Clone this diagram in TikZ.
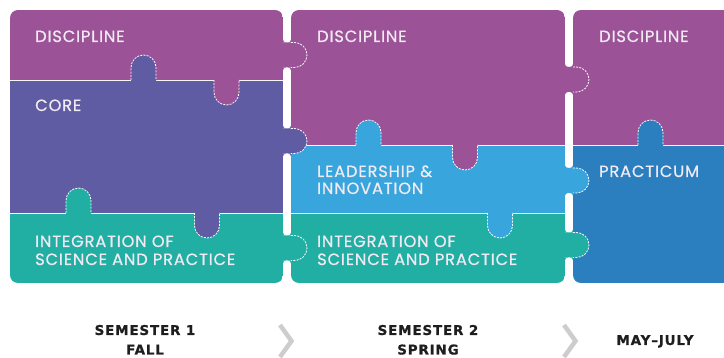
\documentclass[tikz,border=0pt]{standalone}
\usepackage{fontspec}
\setmainfont{Poppins}
\newfontfamily\piecefont{Poppins}[LetterSpace=5,FakeBold=0.6]
\newfontfamily\termfont{DejaVu Sans}[LetterSpace=6,FakeBold=0.8]
\definecolor{disc}{RGB}{155,82,151}
\definecolor{core}{RGB}{95,92,163}
\definecolor{integ}{RGB}{33,175,164}
\definecolor{lead}{RGB}{56,165,220}
\definecolor{prac}{RGB}{43,127,190}
\definecolor{ptxt}{RGB}{242,234,243}
\definecolor{ttxt}{RGB}{30,30,30}
\definecolor{chev}{RGB}{205,205,205}
\newcommand{\uptab}[3]{%
  \fill[#3, rounded corners=12.5pt] ({#1-12.5},{#2+1}) -- ({#1-12.5},{#2-25}) -- ({#1+12.5},{#2-25}) -- ({#1+12.5},{#2+1});
  \draw[tabline, rounded corners=12.5pt] ({#1-12.5},{#2}) -- ({#1-12.5},{#2-25}) -- ({#1+12.5},{#2-25}) -- ({#1+12.5},{#2});
}
\newcommand{\downtab}[3]{%
  \fill[#3, rounded corners=12.5pt] ({#1-12.5},{#2-1}) -- ({#1-12.5},{#2+25}) -- ({#1+12.5},{#2+25}) -- ({#1+12.5},{#2-1});
  \draw[tabline, rounded corners=12.5pt] ({#1-12.5},{#2}) -- ({#1-12.5},{#2+25}) -- ({#1+12.5},{#2+25}) -- ({#1+12.5},{#2});
}
\newcommand{\gapfillet}[5]{%
  \begin{scope}[shift={(#1,#2)}, xscale=#3, yscale=#4]
    \fill[#5] (0,-3) -- (0,0) -- (3,0) .. controls (1.34,0) and (0,-1.34) .. (0,-3) -- cycle;
  \end{scope}
}
\newcommand{\htab}[4]{% source edge, target edge, centre y, colour
  \fill[#4, rounded corners=12.5pt] ({#1-2},{#3-12.5}) -- ({#1+24},{#3-12.5}) -- ({#1+24},{#3+12.5}) -- ({#1-2},{#3+12.5});
  \gapfillet{#1}{#3-12.5}{1}{1}{#4}
  \gapfillet{#1}{#3+12.5}{1}{-1}{#4}
  \gapfillet{#2}{#3-12.5}{-1}{1}{#4}
  \gapfillet{#2}{#3+12.5}{-1}{-1}{#4}
  \draw[tabline, rounded corners=12.5pt] ({#2},{#3-12.5}) -- ({#1+24},{#3-12.5}) -- ({#1+24},{#3+12.5}) -- ({#2},{#3+12.5});
}
\begin{document}
\begin{tikzpicture}[x=1pt,y=-1pt,
  tabline/.style={draw=white, line width=0.8pt, dash pattern=on 2pt off 1.2pt},
  rowline/.style={draw=white!92!gray, line width=0.8pt},
  piece/.style={inner sep=0pt, anchor=base west, text=ptxt, font=\piecefont\fontsize{16.3}{19}\selectfont},
  term/.style={inner sep=0pt, anchor=base, text=ttxt, font=\termfont\bfseries\fontsize{13.5}{16}\selectfont},
  chevron/.style={draw=chev, line width=4.5pt, line join=miter}]
\useasboundingbox (0,0) rectangle (724,358);
\clip (0,0) rectangle (724,358);
% column 1
\begin{scope}
  \clip[rounded corners=8pt] (10,10) rectangle (283,283);
  \fill[disc] (10,10) rectangle (283,80);
  \fill[core] (10,80) rectangle (283,213);
  \fill[integ] (10,213) rectangle (283,283);
  \draw[rowline] (10,80) -- (283,80);
  \draw[rowline] (10,213) -- (283,213);
\end{scope}
% column 2
\begin{scope}
  \clip[rounded corners=8pt] (291,10) rectangle (565,283);
  \fill[disc] (291,10) rectangle (565,145);
  \fill[lead] (291,145) rectangle (565,213);
  \fill[integ] (291,213) rectangle (565,283);
  \draw[rowline] (291,145) -- (565,145);
  \draw[rowline] (291,213) -- (565,213);
\end{scope}
% column 3
\begin{scope}
  \clip[rounded corners=8pt] (573,10) rectangle (740,283);
  \fill[disc] (573,10) rectangle (740,145);
  \fill[prac] (573,145) rectangle (740,283);
  \draw[rowline] (573,145) -- (740,145);
\end{scope}
% tabs inside the columns
\uptab{143.5}{80}{core}
\downtab{226.5}{80}{disc}
\uptab{78.5}{213}{integ}
\downtab{207}{213}{core}
\uptab{368.5}{145}{lead}
\downtab{465}{145}{disc}
\downtab{500}{213}{lead}
\uptab{650.5}{145}{prac}
% tabs across the gaps
\htab{283}{291}{55}{disc}
\htab{283}{291}{141}{core}
\htab{283}{291}{248}{integ}
\htab{565}{573}{79.5}{disc}
\htab{565}{573}{180.5}{lead}
\htab{565}{573}{245}{integ}
% piece labels
\node[piece] (d1) at (35,42) {DISCIPLINE};
\node[piece] (c1) at (35,111) {CORE};
\node[piece] (i1a) at (35,247) {INTEGRATION OF};
\node[piece] (i1b) at (35,265) {SCIENCE AND PRACTICE};
\node[piece] (d2) at (317,42) {DISCIPLINE};
\node[piece] (l2a) at (317,177) {LEADERSHIP \&};
\node[piece] (l2b) at (317,194) {INNOVATION};
\node[piece] (i2a) at (317,247) {INTEGRATION OF};
\node[piece] (i2b) at (317,265) {SCIENCE AND PRACTICE};
\node[piece] (d3) at (599,42) {DISCIPLINE};
\node[piece] (p3) at (599,177) {PRACTICUM};
% terms
\node[term] (s1a) at (145,335) {SEMESTER 1};
\node[term] (s1b) at (145,354.5) {FALL};
\node[term] (s2a) at (428,335) {SEMESTER 2};
\node[term] (s2b) at (428,354.5) {SPRING};
\node[term] (s3) at (655,345) {MAY–JULY};
\draw[chevron] (280,325) -- (291.5,341) -- (280,357);
\draw[chevron] (564,325) -- (575.5,341) -- (564,357);
\end{tikzpicture}
\end{document}
